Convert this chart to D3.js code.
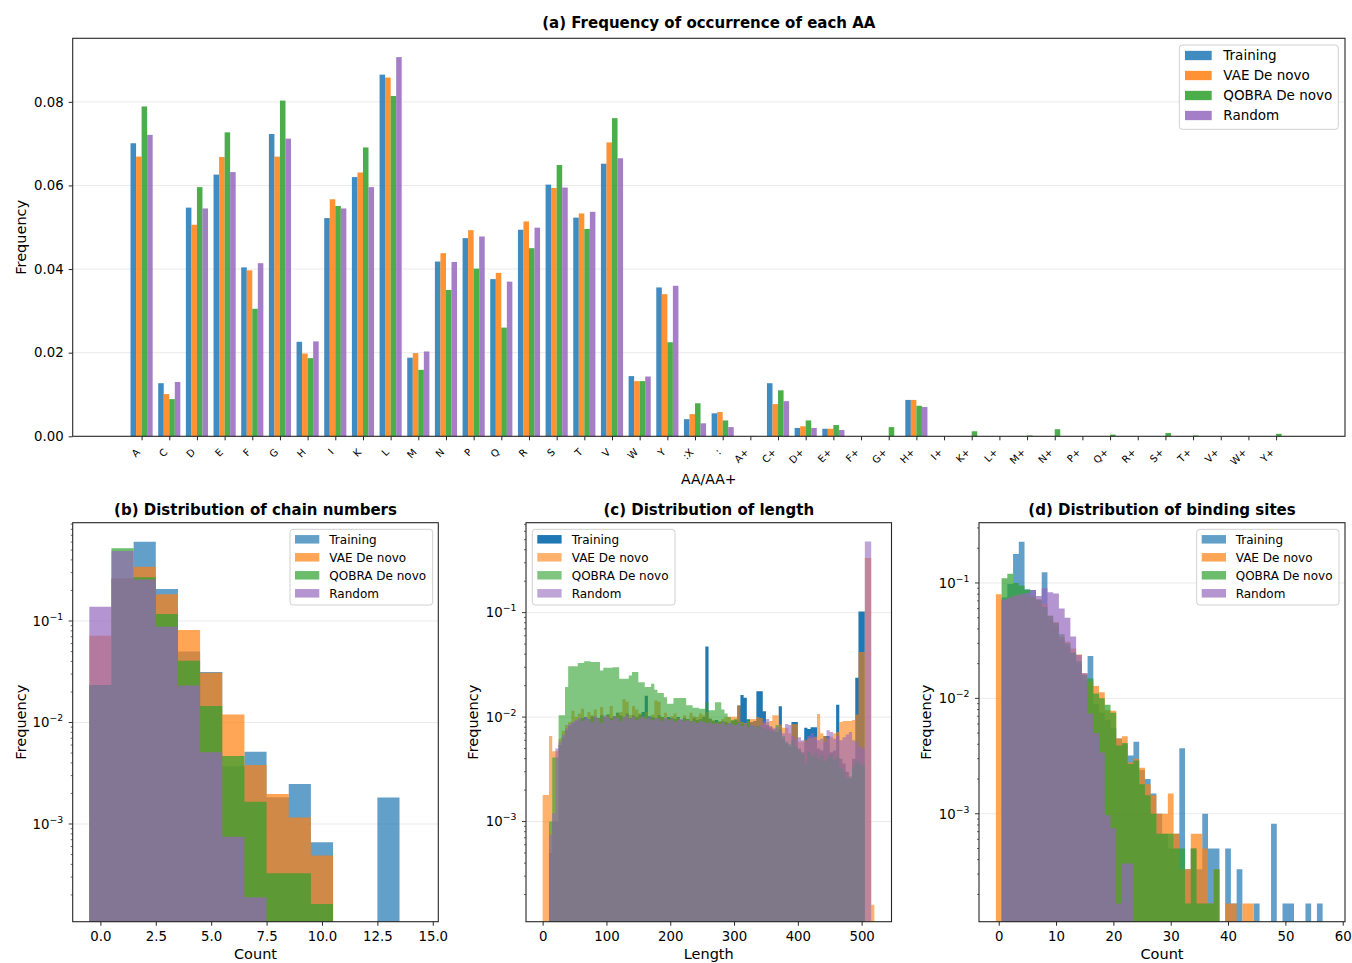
<!DOCTYPE html>
<html><head><meta charset="utf-8">
<script src="https://cdn.jsdelivr.net/npm/d3@7"></script>
<style>
body{margin:0;background:#fff;}
text{font-family:"DejaVu Sans",sans-serif;fill:#000;}
</style></head><body>
<svg id="chart" width="1352" height="963"></svg>
<script>
// ---------------- DATA ----------------
const seriesNames = ["Training", "VAE De novo", "QOBRA De novo", "Random"];
const seriesColors = ["#1f77b4", "#ff7f0e", "#2ca02c", "#9467bd"];

// (a) amino-acid frequencies
const aaLabels = ["A","C","D","E","F","G","H","I","K","L","M","N","P","Q","R","S","T","V","W","Y",":X",":",
  "A+","C+","D+","E+","F+","G+","H+","I+","K+","L+","M+","N+","P+","Q+","R+","S+","T+","V+","W+","Y+"];
const aaTraining = [0.0701,0.0127,0.0547,0.0626,0.0404,0.0723,0.0226,0.0522,0.0620,0.0865,0.0188,0.0418,0.0474,0.0376,0.0494,0.0602,0.0523,0.0652,0.0144,0.0356,0.0041,0.0055,
  0,0.0127,0.0020,0.0018,0,0,0.0087,0,0,0,0,0,0,0,0,0,0,0,0,0];
const aaVAE = [0.0669,0.0101,0.0506,0.0668,0.0397,0.0669,0.0198,0.0567,0.0631,0.0858,0.0199,0.0438,0.0493,0.0391,0.0514,0.0594,0.0533,0.0703,0.0132,0.0340,0.0053,0.0058,
  0,0.0077,0.0024,0.0018,0,0,0.0087,0,0,0,0,0,0,0,0,0,0,0,0,0];
const aaQOBRA = [0.0789,0.0089,0.0596,0.0727,0.0305,0.0803,0.0187,0.0551,0.0691,0.0814,0.0159,0.0350,0.0401,0.0260,0.0450,0.0649,0.0496,0.0761,0.0132,0.0225,0.0079,0.0038,
  0.0001,0.0110,0.0038,0.0027,0,0.0022,0.0073,0,0.0012,0,0.0002,0.0017,0,0.0004,0,0.0008,0.0002,0,0,0.0006];
const aaRandom = [0.0721,0.0130,0.0545,0.0632,0.0414,0.0712,0.0227,0.0545,0.0596,0.0907,0.0203,0.0417,0.0478,0.0370,0.0499,0.0595,0.0537,0.0665,0.0143,0.0360,0.0031,0.0022,
  0,0.0084,0.0020,0.0015,0,0,0.0070,0,0,0,0,0,0,0,0,0,0,0,0,0];
const aaTicks = [0, 0.02, 0.04, 0.06, 0.08];

// (b) chain numbers, bins centred on 0..14
const chainBins = [0,1,2,3,4,5,6,7,8,9,10,11,12,13,14];
const chainTraining = [0.0234,0.260,0.605,0.207,0.0502,0.0315,0.0037,0.00516,0.00183,0.00248,0.00066,0,0,0.00182,0];
const chainVAE      = [0.0717,0.265,0.343,0.183,0.0815,0.0310,0.0120,0.00381,0.00197,0.00116,0.00049,0,0,0,0];
const chainQOBRA    = [0.0234,0.520,0.270,0.117,0.0407,0.01455,0.00468,0.00166,0.000327,0.000327,0.000163,0,0,0,0];
const chainRandom   = [0.138,0.490,0.257,0.088,0.0231,0.00508,0.00075,0.00019,0,0,0,0,0,0,0];
const chainXTicks = [0, 2.5, 5, 7.5, 10, 12.5, 15];

// (c) length, bins of 5 starting at 0 (0-5, 5-10, ... 515-520)
const lengthBinStarts = d3.range(0, 520, 5);
const lengthTraining = [0,0,0.0005,0.0010,0.0010,0.0054,0.0064,0.0075,0.0082,0.0088,
  0.0092,0.0095,0.0098,0.0100,0.0096,0.0102,0.0100,0.0098,0.0104,0.0100,
  0.0106,0.0098,0.0102,0.0110,0.0104,0.0100,0.0108,0.0098,0.0104,0.0100,
  0.0106,0.0112,0.0160,0.0102,0.0100,0.0098,0.0104,0.0100,0.0096,0.0100,
  0.0098,0.0096,0.0100,0.0094,0.0098,0.0096,0.0092,0.0098,0.0094,0.0096,
  0.0100,0.0474,0.0096,0.0092,0.0094,0.0090,0.0092,0.0090,0.0088,0.0092,
  0.0094,0.0129,0.0163,0.0153,0.0095,0.0090,0.0092,0.0177,0.0177,0.0114,
  0.0084,0.0080,0.0076,0.0072,0.0127,0.0062,0.0056,0.0052,0.0090,0.0090,
  0.0050,0.0046,0.0079,0.0077,0.0080,0.0080,0.0050,0.0048,0.0066,0.0066,
  0.0046,0.0048,0.0131,0.0040,0.0036,0.0030,0.0026,0.0040,0.0238,0.1026,
  0.1026,0,0,0];
const lengthVAE = [0.0018,0.0018,0.0066,0.0047,0.0047,0.0062,0.0074,0.0084,0.0090,0.0115,
  0.0100,0.0108,0.0120,0.0095,0.0112,0.0104,0.0118,0.0098,0.0125,0.0100,
  0.0105,0.0128,0.0098,0.0108,0.0112,0.0148,0.0140,0.0105,0.0128,0.0118,
  0.0108,0.0100,0.0112,0.0096,0.0106,0.0144,0.0140,0.0100,0.0110,0.0096,
  0.0102,0.0108,0.0098,0.0094,0.0104,0.0096,0.0110,0.0102,0.0100,0.0108,
  0.0104,0.0112,0.0098,0.0094,0.0090,0.0092,0.0096,0.0101,0.0101,0.0101,
  0.0101,0.0129,0.0090,0.0088,0.0092,0.0096,0.0096,0.0100,0.0098,0.0088,
  0.0090,0.0092,0.0104,0.0104,0.0085,0.0079,0.0079,0.0070,0.0086,0.0086,
  0.0058,0.0058,0.0060,0.0063,0.0063,0.0065,0.0107,0.0070,0.0066,0.0062,
  0.0065,0.0070,0.0072,0.0090,0.0092,0.0092,0.0092,0.0094,0.0106,0.0420,
  0.0420,0.334,0.334,0.00016];
const lengthQOBRA = [0,0,0.0010,0.0041,0.0041,0.0104,0.0104,0.0194,0.0306,0.0306,
  0.0306,0.0329,0.0329,0.0343,0.0343,0.0336,0.0336,0.0336,0.0279,0.0296,
  0.0296,0.0296,0.0300,0.0300,0.0233,0.0233,0.0233,0.0250,0.0270,0.0270,
  0.0216,0.0216,0.0194,0.0194,0.0208,0.0183,0.0170,0.0170,0.0155,0.0134,
  0.0134,0.0152,0.0152,0.0152,0.0152,0.0130,0.0130,0.0123,0.0123,0.0120,
  0.0120,0.0139,0.0116,0.0116,0.0139,0.0139,0.0118,0.0108,0.0100,0.0094,
  0.0096,0.0090,0.0088,0.0086,0.0096,0.0084,0.0082,0.0082,0.0080,0.0078,
  0.0076,0.0074,0.0072,0.0084,0.0076,0.0066,0.0058,0.0055,0.0060,0.0052,
  0.0048,0.0044,0.0036,0.0046,0.0042,0.0045,0.0040,0.0043,0.0038,0.0041,
  0.0044,0.0039,0.0042,0.0033,0.0030,0.0026,0.0027,0.0034,0.0038,0.0036,
  0.0034,0,0,0];
const lengthRandom = [0,0,0.00075,0.0012,0.0050,0.0058,0.0068,0.0078,0.0086,0.0090,
  0.0094,0.0098,0.0092,0.0100,0.0096,0.0090,0.0102,0.0096,0.0088,0.0104,
  0.0100,0.0094,0.0102,0.0098,0.0092,0.0100,0.0104,0.0096,0.0100,0.0094,
  0.0098,0.0102,0.0096,0.0100,0.0094,0.0098,0.0096,0.0092,0.0098,0.0094,
  0.0096,0.0090,0.0094,0.0096,0.0092,0.0094,0.0090,0.0092,0.0088,0.0092,
  0.0090,0.0088,0.0090,0.0086,0.0088,0.0086,0.0090,0.0084,0.0088,0.0086,
  0.0084,0.0088,0.0082,0.0086,0.0080,0.0084,0.0082,0.0080,0.0084,0.0092,
  0.0096,0.0082,0.0078,0.0080,0.0074,0.0070,0.0086,0.0084,0.0066,0.0062,
  0.0064,0.0060,0.0058,0.0066,0.0070,0.0064,0.0060,0.0062,0.0058,0.0075,
  0.0072,0.0062,0.0066,0.0060,0.0064,0.0068,0.0072,0.0060,0.0058,0.0052,
  0.0050,0.480,0.480,0];
const lengthXTicks = [0, 100, 200, 300, 400, 500];

// (d) binding sites, bins centred on 0..56
const bindBins = d3.range(0, 57);
const bindTraining = [0,0.075,0.098,0.178,0.228,0.088,0.087,0.070,0.124,0.048,
  0.043,0.032,0.028,0.0245,0.020,0.0145,0.0233,0.0090,0.0075,0.0065,
  0.0055,0.0045,0.0040,0.0032,0.0042,0.0024,0.0020,0.0015,0.0010,0.00067,
  0.0005,0.00067,0.0037,0.00033,0.0005,0.00033,0.0010,0.0005,0.0005,0,
  0.0005,0.000167,0.00033,0,0,0.000167,0,0,0.00082,0,
  0.000167,0.000167,0,0,0.000167,0,0.000167];
const bindVAE = [0.0797,0.070,0.075,0.078,0.080,0.078,0.076,0.072,0.066,0.052,
  0.046,0.034,0.031,0.027,0.024,0.0165,0.0140,0.0128,0.0113,0.0079,
  0.0078,0.0045,0.0047,0.0028,0.0030,0.0025,0.0018,0.00145,0.0010,0.0010,
  0.0015,0.00067,0.00033,0.00033,0.00067,0.00067,0.0005,0.000167,0.00033,0,
  0.000167,0.000167,0,0.000167,0.000167,0,0,0,0,0,
  0,0,0,0,0,0,0];
const bindQOBRA = [0,0.110,0.120,0.100,0.095,0.088,0.076,0.072,0.062,0.052,
  0.045,0.036,0.030,0.025,0.021,0.016,0.0149,0.0110,0.0100,0.0088,
  0.0075,0.0039,0.0041,0.0027,0.0029,0.0018,0.00145,0.0010,0.00067,0.00067,
  0.00067,0.0005,0.0005,0.000167,0.0005,0.000167,0.000167,0.000167,0.00033,0,
  0,0,0,0,0,0,0,0,0,0,
  0,0,0,0,0,0,0];
const bindRandom = [0,0.072,0.075,0.078,0.080,0.082,0.087,0.077,0.090,0.083,
  0.081,0.060,0.050,0.0343,0.0238,0.0165,0.0074,0.0050,0.0034,0.00097,
  0.00075,0.000167,0.00037,0.00037,0,0,0,0,0,0,
  0,0,0,0,0,0,0,0,0,0,
  0,0,0,0,0,0,0,0,0,0,
  0,0,0,0,0,0,0];
const bindXTicks = [0, 10, 20, 30, 40, 50, 60];

// ---------------- DRAWING ----------------
const svg = d3.select("#chart");
const SPINE = "#262626";
const GRID = "#ebebeb";

function rgba(hex, a) {
  const c = d3.rgb(hex); return `rgba(${c.r},${c.g},${c.b},${a})`;
}

function frame(g, box) {
  g.append("rect").attr("x", box.l).attr("y", box.t)
    .attr("width", box.r - box.l).attr("height", box.b - box.t)
    .attr("fill", "none").attr("stroke", SPINE).attr("stroke-width", 1.1);
}

function legend(g, o, alphas) {
  g.append("rect").attr("x", o.x).attr("y", o.y).attr("width", o.w).attr("height", o.h)
    .attr("rx", 3).attr("fill", "rgba(255,255,255,0.85)").attr("stroke", "#d0d0d0").attr("stroke-width", 1);
  seriesNames.forEach((n, i) => {
    const cy = o.row0 + i * o.dy;
    g.append("rect").attr("x", o.px).attr("y", cy - o.ph / 2).attr("width", o.pw).attr("height", o.ph)
      .attr("fill", rgba(seriesColors[i], alphas[i]));
    g.append("text").attr("x", o.tx).attr("y", cy + o.fs * 0.36).attr("font-size", o.fs).text(n);
  });
}

function yLabel(g, x, y, txt) {
  g.append("text").attr("transform", `translate(${x},${y}) rotate(-90)`)
    .attr("text-anchor", "middle").attr("font-size", 14.5).text(txt);
}

function title(g, x, y, txt) {
  g.append("text").attr("x", x).attr("y", y).attr("text-anchor", "middle")
    .attr("font-size", 15).attr("font-weight", "bold").text(txt);
}

// ---------- Panel (a) ----------
(function () {
  const box = { l: 72.7, r: 1345, t: 38.3, b: 436.3 };
  const g = svg.append("g");
  const x = d3.scaleLinear().domain([-2.49, 43.49]).range([box.l, box.r]);
  const y = d3.scaleLinear().domain([0, 0.0952]).range([box.b, box.t]);
  const series = [aaTraining, aaVAE, aaQOBRA, aaRandom];
  g.selectAll(".grid").data(aaTicks.slice(1)).enter().append("line")
    .attr("x1", box.l).attr("x2", box.r).attr("y1", d => y(d)).attr("y2", d => y(d))
    .attr("stroke", GRID).attr("stroke-width", 1);
  const bw = 0.2;
  series.forEach((vals, s) => {
    g.append("g").selectAll("rect").data(vals.map((v, i) => ({ v, i })).filter(d => d.v > 0))
      .enter().append("rect")
      .attr("x", d => x(d.i - 0.4 + bw * s))
      .attr("width", x(bw) - x(0))
      .attr("y", d => y(d.v))
      .attr("height", d => y(0) - y(d.v))
      .attr("fill", rgba(seriesColors[s], 0.85));
  });
  const ya = g.append("g").attr("transform", `translate(${box.l},0)`)
    .call(d3.axisLeft(y).tickValues(aaTicks).tickFormat(d3.format(".2f")).tickSize(4).tickPadding(5));
  ya.select(".domain").remove();
  ya.selectAll("text").attr("font-size", 13.3).attr("font-family", "DejaVu Sans");
  ya.selectAll("line").attr("stroke", SPINE);
  const xa = g.append("g").attr("transform", `translate(0,${box.b})`)
    .call(d3.axisBottom(x).tickValues(d3.range(aaLabels.length)).tickFormat("").tickSize(4));
  xa.select(".domain").remove();
  xa.selectAll("line").attr("stroke", SPINE);
  g.selectAll(".xl").data(aaLabels).enter().append("text")
    .attr("transform", (d, i) => `translate(${x(i) - 1},${box.b + 16.5}) rotate(-45)`)
    .attr("text-anchor", "end").attr("font-size", 10).text(d => d);
  frame(g, box);
  g.append("text").attr("x", (box.l + box.r) / 2).attr("y", 484).attr("text-anchor", "middle")
    .attr("font-size", 14).text("AA/AA+");
  yLabel(g, 25.5, (box.t + box.b) / 2, "Frequency");
  title(g, (box.l + box.r) / 2, 28, "(a) Frequency of occurrence of each AA");
  legend(g, { x: 1179.3, y: 45, w: 159, h: 84.3, row0: 55.5, dy: 20, px: 1185, pw: 26.7, ph: 9.3, tx: 1223.3, fs: 13.5 },
    [0.85, 0.85, 0.85, 0.85]);
})();

// ---------- histogram panels ----------
function histPanel(cfg) {
  const box = cfg.box;
  const g = svg.append("g");
  const x = d3.scaleLinear().domain(cfg.xDomain).range([box.l, box.r]);
  const y = d3.scaleLog().domain(cfg.yDomain).range([box.b, box.t]);
  const clipId = "clip" + cfg.id;
  svg.append("clipPath").attr("id", clipId).append("rect")
    .attr("x", box.l).attr("y", box.t).attr("width", box.r - box.l).attr("height", box.b - box.t);
  const majors = [1e-3, 1e-2, 1e-1].filter(v => v >= cfg.yDomain[0] && v <= cfg.yDomain[1]);
  g.selectAll(".grid").data(majors).enter().append("line")
    .attr("x1", box.l).attr("x2", box.r).attr("y1", d => y(d)).attr("y2", d => y(d))
    .attr("stroke", GRID).attr("stroke-width", 1);
  const body = g.append("g").attr("clip-path", `url(#${clipId})`);
  cfg.series.forEach((vals, s) => {
    let d = "";
    let inRun = false;
    vals.forEach((v, i) => {
      const x0 = x(cfg.edges[i][0]), x1 = x(cfg.edges[i][1]);
      if (v > 0) {
        const yy = y(v);
        if (!inRun) { d += `M${x0},${box.b + 2}L${x0},${yy}`; inRun = true; }
        else d += `L${x0},${yy}`;
        d += `L${x1},${yy}`;
        if (i === vals.length - 1 || !(vals[i + 1] > 0)) { d += `L${x1},${box.b + 2}Z`; inRun = false; }
      }
    });
    body.append("path").attr("d", d).attr("fill", rgba(seriesColors[s], cfg.alphas[s]));
  });
  const minors = [];
  for (let e = -5; e <= 0; e++) for (let m = 2; m <= 9; m++) {
    const v = m * Math.pow(10, e);
    if (v >= cfg.yDomain[0] && v <= cfg.yDomain[1]) minors.push(v);
  }
  g.selectAll(".minor").data(minors).enter().append("line")
    .attr("x1", box.l - 2).attr("x2", box.l).attr("y1", d => y(d)).attr("y2", d => y(d))
    .attr("stroke", SPINE).attr("stroke-width", 0.7);
  g.selectAll(".major").data(majors).enter().append("line")
    .attr("x1", box.l - 4).attr("x2", box.l).attr("y1", d => y(d)).attr("y2", d => y(d))
    .attr("stroke", SPINE).attr("stroke-width", 0.9);
  majors.forEach(v => {
    const t = g.append("text").attr("x", box.l - 9.5).attr("y", y(v) + 4.8)
      .attr("text-anchor", "end").attr("font-size", 13.3);
    t.append("tspan").text("10");
    t.append("tspan").attr("dy", -6).attr("font-size", 9.3).text("\u2212" + Math.round(-Math.log10(v)));
  });
  const xa = g.append("g").attr("transform", `translate(0,${box.b})`)
    .call(d3.axisBottom(x).tickValues(cfg.xTicks).tickFormat(cfg.xFormat).tickSize(4).tickPadding(6.3));
  xa.select(".domain").remove();
  xa.selectAll("text").attr("font-size", 13.3).attr("font-family", "DejaVu Sans");
  xa.selectAll("line").attr("stroke", SPINE);
  frame(g, box);
  g.append("text").attr("x", (box.l + box.r) / 2).attr("y", 959).attr("text-anchor", "middle")
    .attr("font-size", 14.5).text(cfg.xLabel);
  yLabel(g, cfg.yLabelX, (box.t + box.b) / 2, "Frequency");
  title(g, (box.l + box.r) / 2, 515, cfg.title);
  legend(g, cfg.legend, cfg.alphas);
}

histPanel({
  id: "b", box: { l: 72.7, r: 438.3, t: 522.7, b: 921.7 },
  xDomain: [-1.25, 15.25], yDomain: [1.09e-4, 0.93],
  edges: chainBins.map(c => [c - 0.5, c + 0.5]),
  series: [chainTraining, chainVAE, chainQOBRA, chainRandom],
  alphas: [0.7, 0.7, 0.7, 0.7],
  xTicks: chainXTicks, xFormat: d3.format(".1f"), xLabel: "Count", yLabelX: 25.5,
  title: "(b) Distribution of chain numbers",
  legend: { x: 290, y: 529.3, w: 142.7, h: 75.7, row0: 539.3, dy: 18, px: 295, pw: 24.3, ph: 8.5, tx: 329.3, fs: 12 }
});

histPanel({
  id: "c", box: { l: 526, r: 891.5, t: 522.7, b: 921.7 },
  xDomain: [-26.1, 546.8], yDomain: [1.1e-4, 0.726],
  edges: lengthBinStarts.map(s => [s, s + 5]),
  series: [lengthTraining, lengthVAE, lengthQOBRA, lengthRandom],
  alphas: [1, 0.6, 0.6, 0.6],
  xTicks: lengthXTicks, xFormat: d3.format("d"), xLabel: "Length", yLabelX: 478,
  title: "(c) Distribution of length",
  legend: { x: 532.3, y: 529.3, w: 142.7, h: 75.7, row0: 539.3, dy: 18, px: 537.3, pw: 24.3, ph: 8.5, tx: 571.7, fs: 12 }
});

histPanel({
  id: "d", box: { l: 979, r: 1345, t: 522.7, b: 921.7 },
  xDomain: [-3.44, 60.4], yDomain: [1.16e-4, 0.333],
  edges: bindBins.map(c => [c - 0.5, c + 0.5]),
  series: [bindTraining, bindVAE, bindQOBRA, bindRandom],
  alphas: [0.7, 0.7, 0.7, 0.7],
  xTicks: bindXTicks, xFormat: d3.format("d"), xLabel: "Count", yLabelX: 931,
  title: "(d) Distribution of binding sites",
  legend: { x: 1196.7, y: 529.3, w: 142.3, h: 75.7, row0: 539.3, dy: 18, px: 1201.7, pw: 24.3, ph: 8.5, tx: 1235.7, fs: 12 }
});
</script>
</body></html>
